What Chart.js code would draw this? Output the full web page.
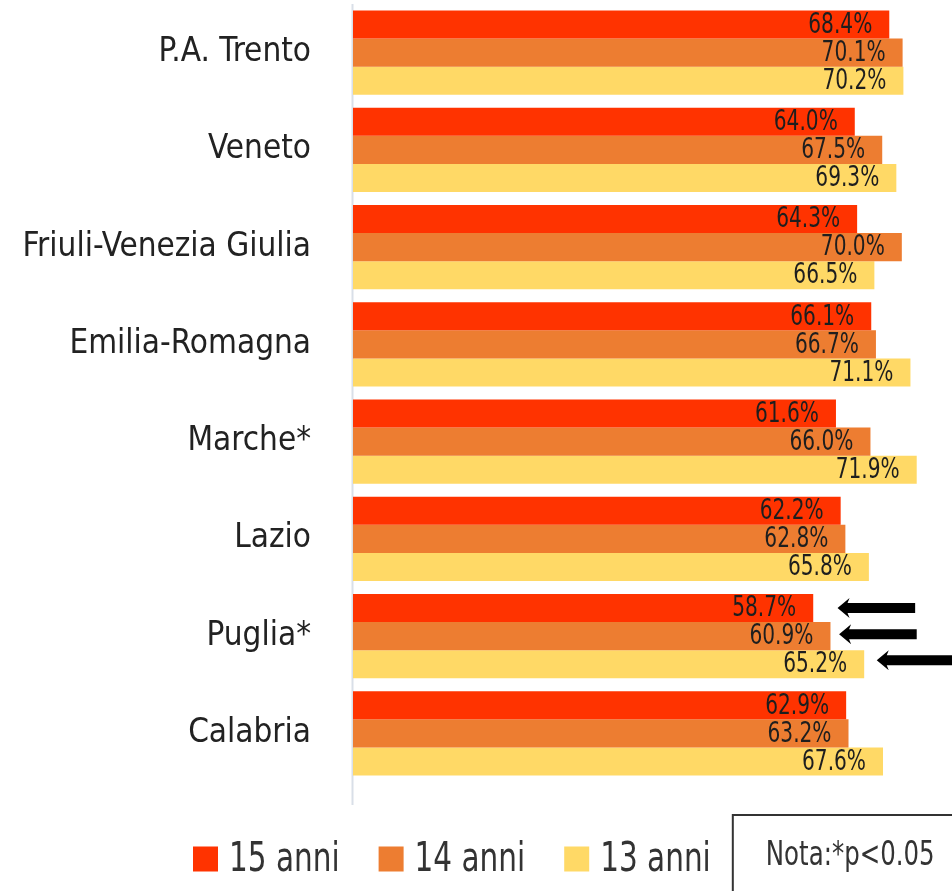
<!DOCTYPE html>
<html>
<head>
<meta charset="utf-8">
<script src="https://cdn.jsdelivr.net/npm/chart.js@4.4.1/dist/chart.umd.min.js"></script>
<style>
  html, body { margin: 0; padding: 0; background: #ffffff; }
  canvas { display: block; }
</style>
</head>
<body>
<canvas id="chart" width="952" height="891"></canvas>
<script>
// Regions and the share per age group
const categories = ['P.A. Trento', 'Veneto', 'Friuli-Venezia Giulia', 'Emilia-Romagna', 'Marche*', 'Lazio', 'Puglia*', 'Calabria'];
const anni15 = [68.4, 64.0, 64.3, 66.1, 61.6, 62.2, 58.7, 62.9];
const anni14 = [70.1, 67.5, 70.0, 66.7, 66.0, 62.8, 60.9, 63.2];
const anni13 = [70.2, 69.3, 66.5, 71.1, 71.9, 65.8, 65.2, 67.6];
const seriesNames = ['15 anni', '14 anni', '13 anni'];
const noteText = 'Nota:*p<0.05';

// Highlight arrows for Puglia (one per age group): tip and tail in % units
const arrowCategory = 'Puglia*';
const arrowTips = [61.8, 62.0, 66.8];
const arrowTails = [71.7, 71.9, 78.0];

const seriesColors = ['#FF3300', '#ED7D31', '#FFD966'];
const FONT = "'DejaVu Sans Condensed', 'DejaVu Sans', sans-serif";
const SQUEEZE = 0.8; // horizontal compression for the condensed look of drawn text

// Draw text squeezed horizontally, anchored at (x, y) with the given alignment
function squeezedText(ctx, text, x, y, align) {
  ctx.save();
  ctx.translate(x, y);
  ctx.scale(SQUEEZE, 1);
  ctx.textAlign = align;
  ctx.fillText(text, 0, 0);
  ctx.restore();
}

// Thin vertical axis line at the base of the bars
const axisLinePlugin = {
  id: 'axisLine',
  beforeDatasetsDraw(chart) {
    const { ctx, chartArea } = chart;
    ctx.save();
    ctx.strokeStyle = '#D9DFE8';
    ctx.lineWidth = 2;
    ctx.beginPath();
    ctx.moveTo(chartArea.left - 0.5, chartArea.top);
    ctx.lineTo(chartArea.left - 0.5, chartArea.bottom + 23);
    ctx.stroke();
    ctx.restore();
  }
};

// Value labels inside the end of each bar
const valueLabelPlugin = {
  id: 'valueLabels',
  afterDatasetsDraw(chart) {
    const { ctx } = chart;
    ctx.save();
    ctx.font = '28px ' + FONT;
    ctx.fillStyle = '#1e1e1e';
    ctx.textBaseline = 'middle';
    chart.data.datasets.forEach((ds, di) => {
      const meta = chart.getDatasetMeta(di);
      meta.data.forEach((bar, i) => {
        squeezedText(ctx, ds.data[i].toFixed(1) + '%', bar.x - 17, bar.y + 1, 'right');
      });
    });
    ctx.restore();
  }
};

// Black arrows pointing at the Puglia bars
const arrowPlugin = {
  id: 'arrows',
  afterDatasetsDraw(chart) {
    const { ctx } = chart;
    const xs = chart.scales.x;
    const idx = chart.data.labels.indexOf(arrowCategory);
    const yShift = [0, -2, -4];
    ctx.save();
    ctx.fillStyle = '#000000';
    arrowTips.forEach((tip, di) => {
      const bar = chart.getDatasetMeta(di).data[idx];
      const y = bar.y + yShift[di];
      const xTip = xs.getPixelForValue(tip);
      const xTail = xs.getPixelForValue(arrowTails[di]);
      const headLen = 12, headHalf = 10, shaftHalf = 5;
      ctx.beginPath();
      ctx.moveTo(xTip, y);
      ctx.lineTo(xTip + headLen, y - headHalf);
      ctx.lineTo(xTip + headLen - 2, y - shaftHalf);
      ctx.lineTo(xTail, y - shaftHalf);
      ctx.lineTo(xTail, y + shaftHalf);
      ctx.lineTo(xTip + headLen - 2, y + shaftHalf);
      ctx.lineTo(xTip + headLen, y + headHalf);
      ctx.closePath();
      ctx.fill();
    });
    ctx.restore();
  }
};

// Legend row with the significance note box
const legendPlugin = {
  id: 'legendRow',
  afterDraw(chart) {
    const { ctx } = chart;
    const cy = 859;
    let x = 193;
    ctx.save();
    ctx.font = '41px ' + FONT;
    ctx.textBaseline = 'middle';
    chart.data.datasets.forEach((ds, i) => {
      ctx.fillStyle = ds.backgroundColor;
      ctx.fillRect(x, cy - 12.5, 25, 25);
      x += 36;
      ctx.fillStyle = '#333333';
      squeezedText(ctx, ds.label, x, cy + 1, 'left');
      x += ctx.measureText(ds.label).width * SQUEEZE;
      if (i < chart.data.datasets.length - 1) x += 39;
    });
    // note box
    const bx = x + 22;
    ctx.strokeStyle = '#333333';
    ctx.lineWidth = 2;
    ctx.strokeRect(bx, 815, 300, 120);
    ctx.font = '34px ' + FONT;
    ctx.fillStyle = '#333333';
    squeezedText(ctx, noteText, bx + 33, cy - 3, 'left');
    ctx.restore();
  }
};

new Chart(document.getElementById('chart'), {
  type: 'bar',
  data: {
    labels: categories,
    datasets: [
      { label: seriesNames[0], data: anni15, backgroundColor: seriesColors[0] },
      { label: seriesNames[1], data: anni14, backgroundColor: seriesColors[1] },
      { label: seriesNames[2], data: anni13, backgroundColor: seriesColors[2] }
    ]
  },
  options: {
    indexAxis: 'y',
    responsive: false,
    animation: false,
    devicePixelRatio: 1,
    layout: { padding: { top: 4, bottom: 109, left: 0, right: 0 } },
    datasets: {
      bar: { barPercentage: 1, categoryPercentage: 0.865, borderWidth: 0 }
    },
    plugins: {
      legend: { display: false },
      tooltip: { enabled: false }
    },
    scales: {
      x: { display: false, min: 0, max: 76.4 },
      y: {
        position: 'left',
        grid: { display: false },
        border: { display: false },
        ticks: {
          font: { family: FONT, size: 33 },
          color: '#222222',
          padding: 34
        },
        afterFit(scale) {
          scale.width = 353;
          scale.paddingTop = 0;
          scale.paddingBottom = 0;
        }
      }
    }
  },
  plugins: [axisLinePlugin, valueLabelPlugin, arrowPlugin, legendPlugin]
});
</script>
</body>
</html>
